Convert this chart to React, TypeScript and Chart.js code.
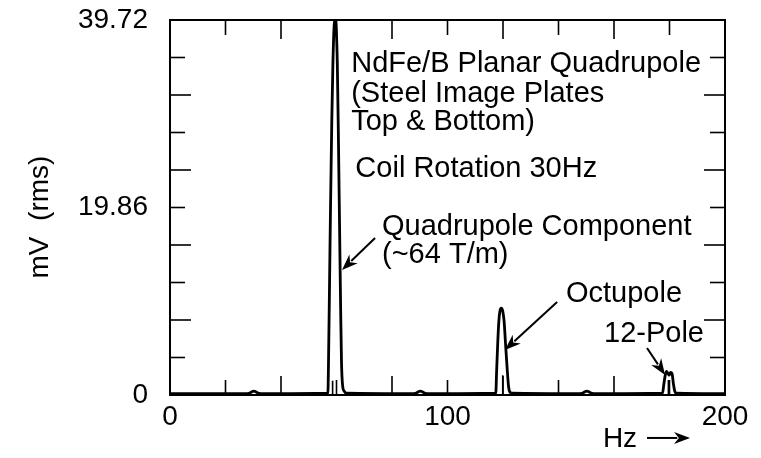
import { useEffect, useRef } from 'react';
import { Chart, registerables } from 'chart.js';

Chart.register(...registerables);

const FONT = '"Liberation Sans", Arial, Helvetica, sans-serif';

// ---- axes ----
const xMin = 0;
const xMax = 200;
const xStep = 20;
const xTickLabels: Record<number, string> = { 0: '0', 100: '100', 200: '200' };
const yMax = 39.72;
const yDivisions = 10;
const yTickLabels: Record<number, string> = { 0: '0', 5: '19.86', 10: '39.72' };
const yTitle = 'mV  (rms)';
const xTitle = 'Hz';

// ---- spectrum (Hz, mV rms) ----
const spectrumHz = [
  0, 27.8, 28.8, 29.5, 30.2, 30.9, 31.7, 32.6,
  56.9, 57.1, 57.5, 57.9, 58.3, 58.7, 59.1, 59.5, 59.9, 60.3, 60.7, 61.1, 61.5, 61.8, 62.2, 62.8, 63.6,
  87.8, 88.8, 89.5, 90.2, 90.9, 91.7, 92.6,
  117.4, 117.7, 118.1, 118.5, 118.9, 119.4, 119.9, 120.4, 120.9, 121.5, 122.0, 122.5, 123.2,
  147.8, 148.8, 149.5, 150.2, 150.9, 151.7, 152.6,
  177.5, 177.9, 178.4, 178.9, 179.4, 179.9, 180.4, 180.9, 181.4, 181.9, 182.5,
  200,
];
const spectrumMv = [
  0.15, 0.15, 0.2, 0.35, 0.4, 0.35, 0.2, 0.15,
  0.2, 3, 12, 21, 29, 35, 38.8, 39.72, 38.8, 35, 27, 18, 9, 3.5, 1.0, 0.4, 0.2,
  0.15, 0.2, 0.35, 0.4, 0.35, 0.2, 0.15,
  0.2, 2.5, 5.5, 7.8, 8.9, 9.2, 8.9, 7.8, 5.5, 2.8, 0.9, 0.3, 0.2,
  0.15, 0.2, 0.35, 0.4, 0.35, 0.2, 0.15,
  0.2, 1.0, 2.0, 2.5, 2.3, 2.1, 2.4, 2.3, 1.2, 0.4, 0.2,
  0.15,
];
// narrow inner spikes seen inside the harmonic peaks
const spikeHz = [58.6, 119.9, 179.6];
const spikeMv = [1.5, 2.1, 1.6];

// ---- annotations (positions in data units: Hz, mV) ----
const noteTexts = [
  'NdFe/B Planar Quadrupole',
  '(Steel Image Plates',
  'Top & Bottom)',
  'Coil Rotation 30Hz',
  'Quadrupole Component',
  '(~64 T/m)',
  'Octupole',
  '12-Pole',
];
const noteHz = [65.3, 65.3, 65.3, 66.8, 76.4, 76.4, 142.7, 156.4];
const noteMv = [34.2, 31.03, 28.07, 23.09, 16.95, 13.98, 9.85, 5.61];

const arrowFromHz = [73.9, 139.5, 171.9];
const arrowFromMv = [16.63, 9.85, 4.98];
const arrowToHz = [62.0, 120.7, 178.4];
const arrowToMv = [13.24, 4.77, 2.12];

function drawArrow(ctx: CanvasRenderingContext2D, x1: number, y1: number, x2: number, y2: number) {
  const ang = Math.atan2(y2 - y1, x2 - x1);
  const head = 16;
  const half = 6;
  const c = Math.cos(ang);
  const s = Math.sin(ang);
  ctx.beginPath();
  ctx.moveTo(x1, y1);
  ctx.lineTo(x2 - c * head * 0.8, y2 - s * head * 0.8);
  ctx.stroke();
  ctx.beginPath();
  ctx.moveTo(x2, y2);
  ctx.lineTo(x2 - c * head - s * half, y2 - s * head + c * half);
  ctx.lineTo(x2 - c * head * 0.7, y2 - s * head * 0.7);
  ctx.lineTo(x2 - c * head + s * half, y2 - s * head - c * half);
  ctx.closePath();
  ctx.fill();
}

const framePlugin = {
  id: 'frame',
  afterDatasetsDraw(chart: any) {
    const { ctx, chartArea: a, scales } = chart;
    const x = scales.x;
    const y = scales.y;
    ctx.save();
    ctx.strokeStyle = '#000';
    ctx.fillStyle = '#000';
    ctx.lineWidth = 2;
    ctx.strokeRect(a.left, a.top, a.right - a.left, a.bottom - a.top);

    ctx.lineWidth = 1.6;
    const seg = (x1: number, y1: number, x2: number, y2: number) => {
      ctx.beginPath();
      ctx.moveTo(x1, y1);
      ctx.lineTo(x2, y2);
      ctx.stroke();
    };
    y.ticks.forEach((t: any, i: number) => {
      if (i === 0 || i === y.ticks.length - 1) return;
      const py = y.getPixelForValue(t.value);
      const len = i % 2 === 0 ? 21 : 15;
      seg(a.left, py, a.left + len, py);
      seg(a.right, py, a.right - len, py);
    });
    x.ticks.forEach((t: any, i: number) => {
      if (i === 0 || i === x.ticks.length - 1) return;
      const px = x.getPixelForValue(t.value);
      const len = i % 2 === 0 ? 19 : 15;
      seg(px, a.bottom, px, a.bottom - len);
      seg(px, a.top, px, a.top + len);
    });

    // annotations
    ctx.font = `29px ${FONT}`;
    ctx.textAlign = 'left';
    ctx.textBaseline = 'alphabetic';
    noteTexts.forEach((t, i) => {
      ctx.fillText(t, x.getPixelForValue(noteHz[i]), y.getPixelForValue(noteMv[i]));
    });
    ctx.lineWidth = 2;
    arrowFromHz.forEach((_, i) => {
      drawArrow(
        ctx,
        x.getPixelForValue(arrowFromHz[i]),
        y.getPixelForValue(arrowFromMv[i]),
        x.getPixelForValue(arrowToHz[i]),
        y.getPixelForValue(arrowToMv[i]),
      );
    });

    // x title with arrow
    ctx.font = `28px ${FONT}`;
    ctx.fillText(xTitle, x.getPixelForValue(156.0), y.getPixelForValue(-5.51));
    drawArrow(ctx, x.getPixelForValue(171.9), y.getPixelForValue(-4.55), x.getPixelForValue(187.4), y.getPixelForValue(-4.55));

    // y title
    ctx.save();
    ctx.translate(40, y.getPixelForValue(18.85));
    ctx.rotate(-Math.PI / 2);
    ctx.textAlign = 'center';
    ctx.textBaseline = 'middle';
    ctx.fillText(yTitle, 0, 0);
    ctx.restore();

    ctx.restore();
  },
};

export default function App() {
  const ref = useRef<HTMLCanvasElement | null>(null);

  useEffect(() => {
    if (!ref.current) return;
    const spectrum = spectrumHz.map((f, i) => ({ x: f, y: spectrumMv[i] }));
    const spikes: { x: number; y: number | null }[] = [];
    spikeHz.forEach((f, i) => {
      spikes.push({ x: f, y: 0 }, { x: f, y: spikeMv[i] }, { x: f, y: null });
    });

    const chart = new Chart(ref.current, {
      type: 'scatter',
      data: {
        datasets: [
          {
            data: spectrum,
            showLine: true,
            borderColor: '#000',
            borderWidth: 2.8,
            pointRadius: 0,
            cubicInterpolationMode: 'monotone',
          } as any,
          {
            data: spikes,
            showLine: true,
            spanGaps: false,
            borderColor: '#000',
            borderWidth: 1.6,
            pointRadius: 0,
          } as any,
        ],
      },
      options: {
        responsive: false,
        animation: false,
        devicePixelRatio: 1,
        layout: { padding: { top: 20, right: 36, left: 0, bottom: 0 } },
        plugins: { legend: { display: false }, tooltip: { enabled: false } },
        scales: {
          x: {
            type: 'linear',
            min: xMin,
            max: xMax,
            grid: { display: false, drawTicks: false },
            border: { display: false },
            afterFit: (s: any) => {
              s.height = 63;
              s.paddingLeft = 0;
              s.paddingRight = 0;
            },
            ticks: {
              stepSize: xStep,
              autoSkip: false,
              maxRotation: 0,
              padding: 5,
              color: '#000',
              font: { family: FONT, size: 28 },
              callback: (v: any) => xTickLabels[Number(v)] ?? '',
            },
          },
          y: {
            type: 'linear',
            min: 0,
            max: yMax,
            grid: { display: false, drawTicks: false },
            border: { display: false },
            afterFit: (s: any) => {
              s.width = 170;
              s.paddingTop = 0;
              s.paddingBottom = 0;
            },
            afterBuildTicks: (s: any) => {
              s.ticks = Array.from({ length: yDivisions + 1 }, (_, i) => ({ value: (yMax * i) / yDivisions }));
            },
            ticks: {
              autoSkip: false,
              padding: 22,
              color: '#000',
              font: { family: FONT, size: 28 },
              callback: (_v: any, i: number) => yTickLabels[i] ?? '',
            },
          },
        },
      },
      plugins: [framePlugin],
    });
    return () => chart.destroy();
  }, []);

  return (
    <div style={{ position: 'absolute', left: 0, top: 0, width: 761, height: 458, background: '#fff' }}>
      <canvas ref={ref} width={761} height={458} />
    </div>
  );
}
